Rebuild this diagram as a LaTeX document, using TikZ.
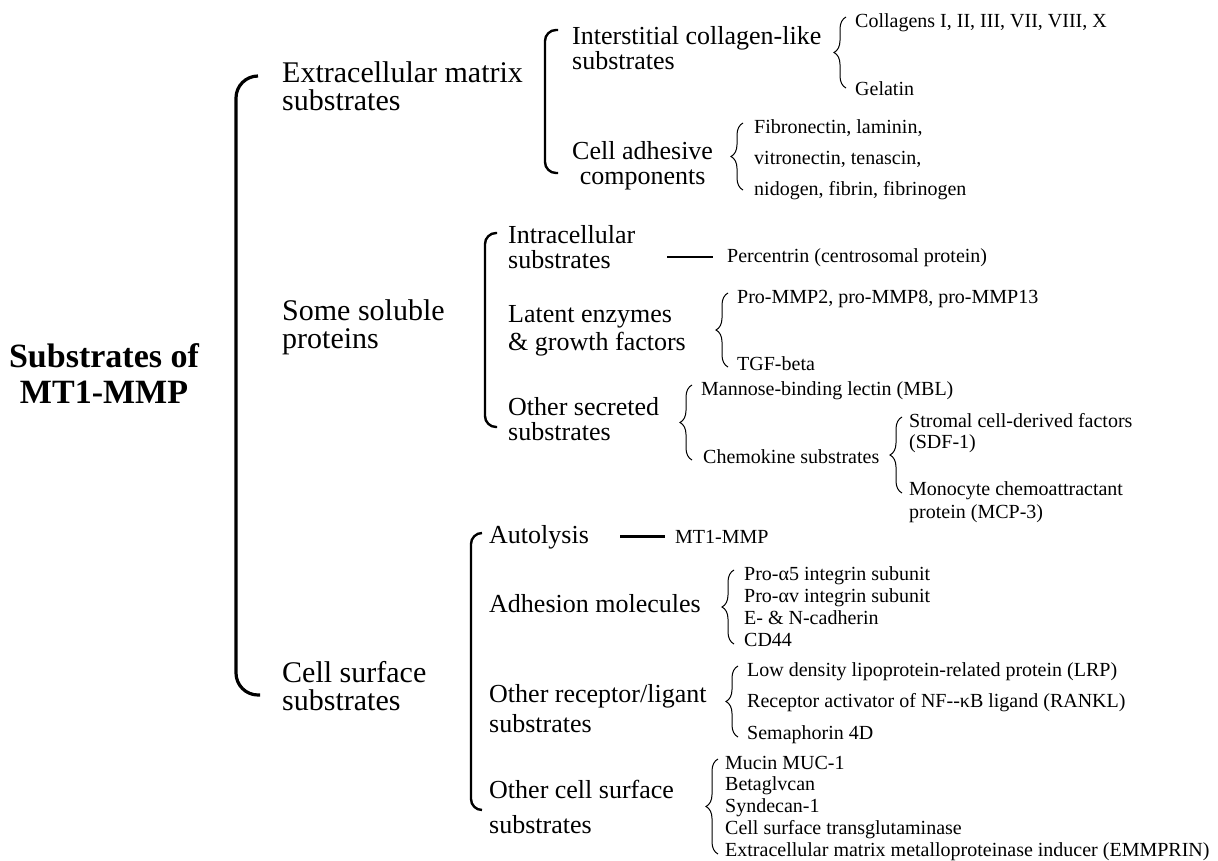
\documentclass[tikz,border=0pt]{standalone}
\usepackage{fontspec}
\setmainfont{Liberation Serif}
\usetikzlibrary{calc,decorations.pathreplacing}

\tikzset{
  rootlabel/.style={font=\fontsize{34}{36}\selectfont\bfseries, align=center, inner sep=0pt, anchor=base},
  toplabel/.style={font=\fontsize{30}{28}\selectfont, align=left, inner sep=0pt, anchor=base west},
  midlabel/.style={font=\fontsize{26}{24}\selectfont, align=left, inner sep=0pt, anchor=base west},
  leaflabel/.style={font=\fontsize{20}{22}\selectfont, align=left, inner sep=0pt, anchor=base west},
  bigbrack/.style={line width=3.2pt, rounded corners=22pt},
  midbrack/.style={line width=2.4pt, rounded corners=11pt},
  leafbrace/.style={line width=1pt, decorate, decoration={brace, amplitude=12pt}},
  joinline/.style={line width=2.2pt}
}

\begin{document}
\begin{tikzpicture}[x=1pt,y=1pt]
\useasboundingbox (0,0) rectangle (1218,-860);

% Root (multi-line nodes sit on their last line)
\node[rootlabel] (root) at (104,-403) {Substrates of\\MT1-MMP};

% First level
\node[toplabel] (ecm) at (282,-110) {Extracellular matrix\\substrates};
\node[toplabel] (soluble) at (282,-348) {Some soluble\\proteins};
\node[toplabel] (cellsurf) at (282,-710) {Cell surface\\substrates};
\draw[bigbrack] ($(ecm.base west)+(-24,34)$) -| ($(cellsurf.base west)+(-46,15)$) -- ++(24,0);

% Extracellular matrix
\node[midlabel] (inter) at (572,-69) {Interstitial collagen-like\\[1pt]substrates};
\node[midlabel, align=center] (celladh) at (572,-184) {Cell adhesive\\[1pt]components};
\draw[midbrack] ($(inter.base west)+(-14,39)$) -| ($(celladh.base west)+(-27,11)$) -- ++(13,0);

\node[leaflabel] (coll) at (855,-27) {Collagens I, II, III, VII, VIII, X};
\node[leaflabel] (gel) at (855,-95) {Gelatin};
\draw[leafbrace] ($(gel.base west)+(-9,7)$) -- ($(coll.base west)+(-9,10)$);

\node[leaflabel, font=\fontsize{20}{31}\selectfont] (fibro) at (754,-195) {Fibronectin, laminin,\\vitronectin, tenascin,\\nidogen, fibrin, fibrinogen};
\draw[leafbrace] ($(fibro.base west)+(-11,5)$) -- ($(fibro.base west)+(-11,72)$);

% Soluble proteins
\node[midlabel] (intra) at (508,-268) {Intracellular\\[1pt]substrates};
\node[midlabel] (latent) at (508,-350) {Latent enzymes\\[4pt]\& growth factors};
\node[midlabel] (othsec) at (508,-440) {Other secreted\\[1pt]substrates};
\draw[midbrack] ($(intra.base west)+(-11,35)$) -| ($(othsec.base west)+(-23,13)$) -- ++(12,0);

\node[leaflabel] (perc) at (727,-262) {Percentrin (centrosomal protein)};
\draw[joinline, shorten <=32pt, shorten >=14pt] (intra.east |- perc.west) -- (perc.west);

\node[leaflabel] (promp) at (737,-303) {Pro-MMP2, pro-MMP8, pro-MMP13};
\node[leaflabel] (tgf) at (737,-370) {TGF-beta};
\draw[leafbrace] ($(tgf.base west)+(-9,3)$) -- ($(promp.base west)+(-9,10)$);

\node[leaflabel] (mbl) at (701,-395) {Mannose-binding lectin (MBL)};
\node[leaflabel] (chemo) at (703,-463) {Chemokine substrates};
\draw[leafbrace] ($(chemo.base west)+(-11,3)$) -- ($(mbl.base west)+(-9,10)$);

\node[leaflabel, font=\fontsize{20}{21}\selectfont] (sdf) at (909,-448) {Stromal cell-derived factors\\(SDF-1)};
\node[leaflabel, font=\fontsize{20}{23}\selectfont] (mono) at (909,-518) {Monocyte chemoattractant\\protein (MCP-3)};
\draw[leafbrace] ($(mono.base west)+(-7,25)$) -- ($(sdf.base west)+(-7,31)$);

% Cell surface
\node[midlabel] (autol) at (489,-543) {Autolysis};
\node[midlabel] (adhmol) at (489,-612) {Adhesion molecules};
\node[midlabel] (othrec) at (489,-732) {Other receptor/ligant\\[6pt]substrates};
\node[midlabel] (othcell) at (489,-833) {Other cell surface\\[11pt]substrates};
\draw[midbrack] ($(autol.base west)+(-7,10)$) -| ($(othcell.base west)+(-18,23)$) -- ++(11,0);

\node[leaflabel] (mtmmp) at (675,-543) {MT1-MMP};
\draw[joinline, shorten <=31pt, shorten >=10pt] (autol.east |- mtmmp.west) -- (mtmmp.west);

\node[leaflabel] (adhlist) at (744,-646) {Pro-α5 integrin subunit\\Pro-αv integrin subunit\\E- \& N-cadherin\\CD44};
\draw[leafbrace] ($(adhlist.base west)+(-10,2)$) -- ($(adhlist.base west)+(-10,76)$);

\node[leaflabel, font=\fontsize{20}{31.5}\selectfont] (reclist) at (747,-739) {Low density lipoprotein-related protein (LRP)\\Receptor activator of NF-{}-κB ligand (RANKL)\\Semaphorin 4D};
\draw[leafbrace] ($(reclist.base west)+(-9,2)$) -- ($(reclist.base west)+(-9,73)$);

\node[leaflabel, font=\fontsize{20}{21.75}\selectfont] (celllist) at (725,-856) {Mucin MUC-1\\Betaglvcan\\Syndecan-1\\Cell surface transglutaminase\\Extracellular matrix metalloproteinase inducer (EMMPRIN)};
\draw[leafbrace] ($(celllist.base west)+(-7,2)$) -- ($(celllist.base west)+(-7,97)$);

\end{tikzpicture}
\end{document}
